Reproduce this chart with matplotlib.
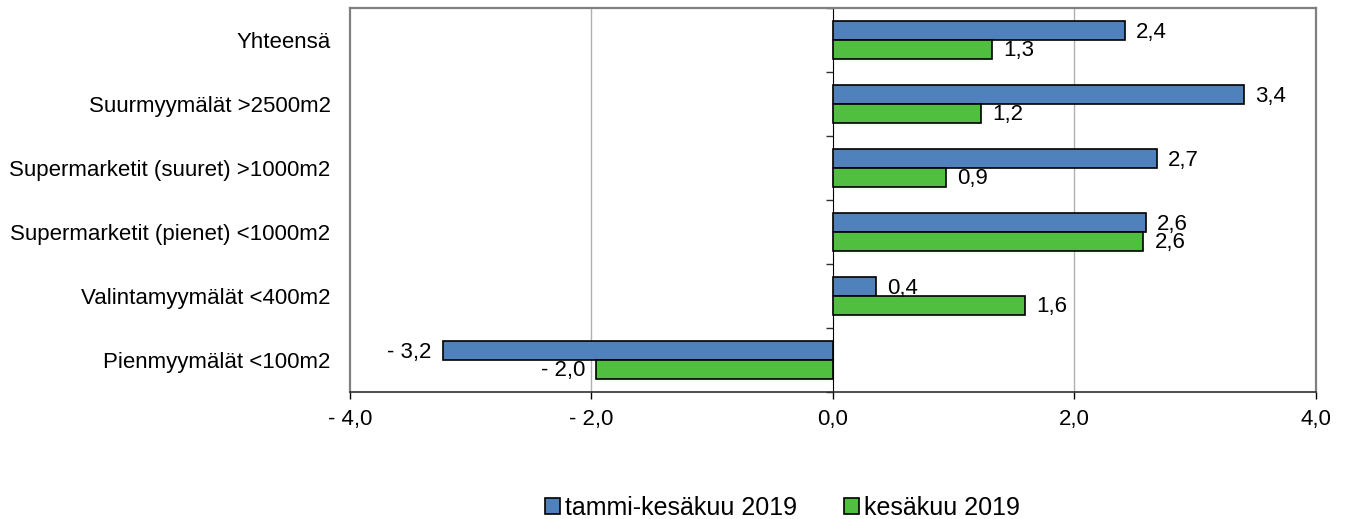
import matplotlib.pyplot as plt
import numpy as np

# data
categories = ['Yhteensä', 'Suurmyymälät >2500m2', 'Supermarketit (suuret) >1000m2',
              'Supermarketit (pienet) <1000m2', 'Valintamyymälät <400m2', 'Pienmyymälät <100m2']
tammi_kesa = [2.42, 3.40, 2.68, 2.59, 0.36, -3.23]
kesa = [1.32, 1.23, 0.94, 2.57, 1.59, -1.96]
series_names = ['tammi-kesäkuu 2019', 'kesäkuu 2019']
xticks = [-4, -2, 0, 2, 4]

plt.rcParams['font.family'] = ['Liberation Sans', 'DejaVu Sans']


def fmt(v):
    s = f'{abs(v):.1f}'.replace('.', ',')
    return '- ' + s if v < 0 else s


fig = plt.figure(figsize=(13.54, 5.19), dpi=100)
ax = fig.add_axes([0.2585, 0.2447, 0.7134, 0.7399])

y = np.arange(len(categories))
h = 0.29
b1 = ax.barh(y - h / 2, tammi_kesa, height=h, color='#4F81BD', edgecolor='black',
             linewidth=1.2, label=series_names[0], zorder=3)
b2 = ax.barh(y + h / 2, kesa, height=h, color='#50BF40', edgecolor='black',
             linewidth=1.2, label=series_names[1], zorder=3)

for bars, vals in ((b1, tammi_kesa), (b2, kesa)):
    for bar, v in zip(bars, vals):
        yc = bar.get_y() + bar.get_height() / 2
        off = 8 if v >= 0 else -8
        ax.annotate(fmt(v), (v, yc), xytext=(off, -1), textcoords='offset points',
                    ha='left' if v >= 0 else 'right', va='center', fontsize=16)

ax.set_xlim(-4, 4)
ax.set_ylim(len(categories) - 0.5, -0.5)
ax.set_xticks(xticks)
ax.set_xticklabels([fmt(t) for t in xticks], fontsize=16)
ax.tick_params(axis='x', length=5, width=1, pad=7)
ax.set_yticks(y)
ax.set_yticklabels(categories, fontsize=16)
ax.tick_params(axis='y', length=0, pad=14)

for t in (-2, 2):
    ax.axvline(t, color='#B0B0B0', linewidth=1, zorder=1)

for side in ('top', 'right', 'left'):
    ax.spines[side].set_color('#808080')
    ax.spines[side].set_linewidth(1.6)
ax.spines['bottom'].set_color('#303030')
ax.spines['bottom'].set_linewidth(1.2)

# zero axis with category boundary ticks
sec = ax.secondary_yaxis(0.5)
sec.set_yticks(np.arange(-0.5, len(categories), 1.0))
sec.set_yticklabels([])
sec.tick_params(length=5, width=1, color='#303030', direction='in')
sec.spines['left'].set_color('#303030')
sec.spines['left'].set_linewidth(1.2)

fig.legend(loc='lower center', bbox_to_anchor=(0.578, -0.045), ncol=2, frameon=False,
           fontsize=18, handlelength=0.6, handleheight=0.6, handletextpad=0.2,
           columnspacing=1.9)

fig.savefig('out.png', dpi=100)
